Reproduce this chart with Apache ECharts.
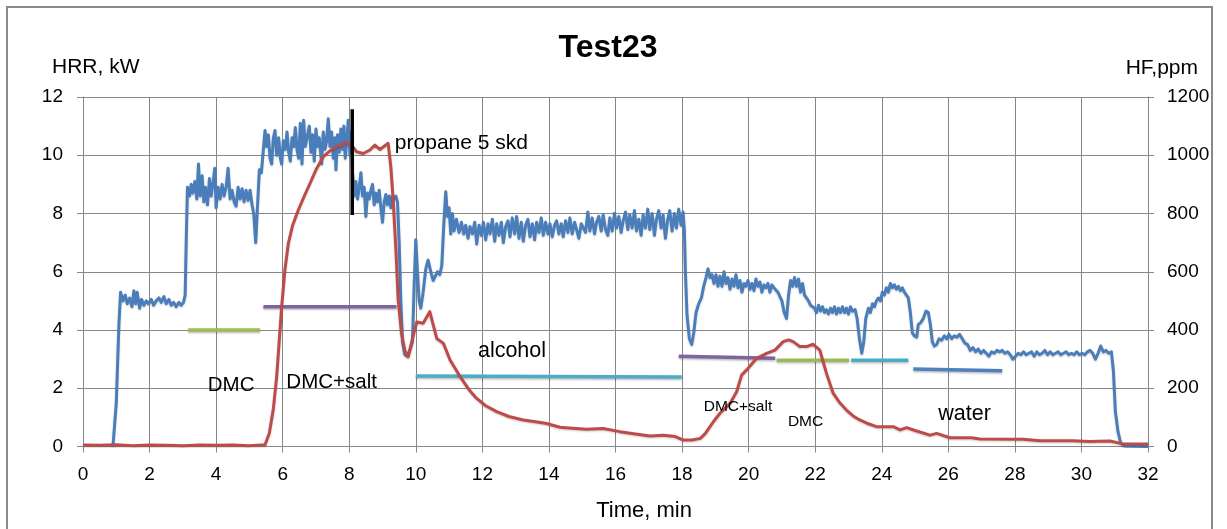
<!DOCTYPE html>
<html>
<head>
<meta charset="utf-8">
<script src="https://cdn.jsdelivr.net/npm/echarts@6/dist/echarts.min.js"></script>
<style>
html,body{margin:0;padding:0;background:#fff;}
#chart{width:1227px;height:529px;}
</style>
</head>
<body>
<div id="chart"></div>
<script>
// ---- Data (time in min) ----
var xTicks = {min: 0, max: 32, interval: 2};
var hrrTicks = {min: 0, max: 12, interval: 2};
var hfTicks = {min: 0, max: 1200, interval: 200};

// HRR, kW (left axis)
var hrr = [
[0.9,0],[1.0,1.5],[1.08,4.2],[1.13,5.3],[1.2,5.0],[1.27,5.2],[1.33,4.9],[1.4,5.1],[1.47,4.8],[1.53,5.35],[1.58,4.9],[1.63,5.3],[1.7,4.75],[1.76,5.05],[1.83,4.85],[1.9,5.0],[1.97,4.9],[2.05,5.05],[2.12,4.85],[2.2,5.0],[2.28,5.1],[2.35,4.95],[2.43,5.15],[2.5,4.9],[2.58,5.05],[2.65,4.85],[2.72,4.95],[2.8,4.8],[2.88,4.95],[2.95,4.85],[3.02,4.95],[3.07,5.2],
[3.11,7.5],[3.14,8.9],[3.2,8.6],[3.25,9.0],[3.3,8.7],[3.36,9.1],[3.42,8.5],[3.47,9.7],[3.52,8.6],[3.58,9.3],[3.63,8.4],[3.68,8.9],[3.74,8.3],[3.8,9.2],[3.85,8.6],[3.9,9.0],[3.96,9.55],[4.0,8.2],[4.06,8.9],[4.12,8.5],[4.18,9.0],[4.24,8.6],[4.3,8.9],[4.36,9.55],[4.42,8.5],[4.48,8.8],[4.54,8.4],[4.6,8.25],[4.66,8.9],[4.72,8.5],[4.78,8.85],[4.84,8.4],[4.9,8.8],[4.96,8.45],[5.02,8.8],[5.08,8.3],[5.13,8.0],[5.19,7.0],[5.25,8.4],[5.3,9.5],[5.36,9.4],[5.42,10.2],[5.47,10.85],
[5.52,10.3],[5.57,10.7],[5.62,9.9],[5.67,9.7],[5.72,10.6],[5.77,10.85],[5.82,10.0],[5.88,10.6],[5.93,9.9],[5.97,9.7],[6.02,10.5],[6.08,10.2],[6.13,10.8],[6.18,10.1],[6.23,9.8],[6.28,10.6],[6.33,10.3],[6.38,10.95],[6.43,10.2],[6.48,9.9],[6.53,11.1],[6.58,9.7],[6.63,11.2],[6.68,10.3],[6.73,10.6],[6.8,11.0],[6.85,10.1],[6.9,10.7],[6.95,9.8],[7.0,10.9],[7.05,10.3],[7.1,10.6],[7.17,9.7],[7.22,10.8],[7.27,10.2],[7.32,10.5],[7.37,11.25],[7.42,10.3],[7.47,10.8],[7.52,9.9],[7.57,10.6],[7.6,9.5],[7.65,10.7],[7.7,10.1],[7.75,10.9],[7.8,10.2],[7.84,11.0],[7.88,9.9],[7.93,10.6],[7.97,11.2],[8.02,10.0],[8.06,10.8],[8.1,9.4],
[8.15,8.6],[8.2,9.1],[8.25,8.5],[8.3,8.9],[8.35,9.4],[8.4,8.6],[8.45,8.9],[8.5,7.9],[8.55,8.7],[8.6,8.5],[8.65,8.8],[8.7,9.0],[8.75,8.3],[8.8,8.7],[8.85,8.4],[8.9,8.8],[8.95,8.2],[9.0,7.7],[9.05,8.4],[9.1,8.65],[9.15,8.3],[9.2,8.6],[9.25,8.2],[9.3,8.6],[9.35,8.5],[9.4,8.6],[9.45,8.4],
[9.5,7.0],[9.55,5.0],[9.6,3.6],[9.67,3.15],[9.75,3.1],[9.82,3.3],[9.9,3.6],[9.95,5.5],[10.0,7.1],[10.05,6.0],[10.1,5.0],[10.15,4.75],[10.22,5.3],[10.3,6.1],[10.37,6.4],[10.45,6.0],[10.52,5.7],[10.58,5.65],[10.65,6.0],[10.72,5.9],[10.78,6.2],[10.84,7.6],[10.9,8.75],[10.95,7.9],
[11.0,8.2],[11.05,7.3],[11.1,8.0],[11.15,7.4],[11.22,7.8],[11.3,7.35],[11.37,7.7],[11.44,7.3],[11.5,7.6],[11.57,7.15],[11.63,7.55],[11.7,7.3],[11.77,7.7],[11.83,6.95],[11.9,7.6],[11.97,7.25],[12.03,7.7],[12.1,7.1],[12.17,7.65],[12.23,7.3],[12.3,7.8],[12.37,7.05],[12.43,7.65],[12.5,7.25],[12.57,7.7],[12.63,7.0],[12.7,7.55],[12.77,7.75],[12.83,7.2],[12.9,7.85],[12.97,7.3],[13.03,7.9],[13.1,7.15],[13.17,7.7],[13.23,7.05],[13.3,7.6],[13.37,7.8],[13.43,7.2],[13.5,7.65],[13.57,7.1],[13.63,7.7],[13.7,7.35],[13.77,7.85],[13.83,7.25],[13.9,7.7],[13.97,7.3],[14.03,7.65],[14.1,7.2],[14.17,7.6],[14.23,7.75],[14.3,7.3],[14.37,7.65],[14.43,7.2],[14.5,7.75],[14.57,7.35],[14.63,7.85],[14.7,7.3],[14.77,7.7],[14.83,7.45],[14.9,7.15],[14.97,7.65],[15.03,7.7],[15.1,7.35],[15.17,8.05],[15.23,7.4],[15.3,7.85],[15.37,7.3],[15.43,7.7],[15.5,7.9],[15.57,7.4],[15.63,7.95],[15.7,7.45],[15.77,7.25],[15.83,7.85],[15.9,7.4],[15.97,8.0],[16.03,7.5],[16.1,7.9],[16.17,7.35],[16.23,7.75],[16.3,8.05],[16.37,7.45],[16.43,7.95],[16.5,7.5],[16.57,8.1],[16.63,7.4],[16.7,7.8],[16.77,7.25],[16.83,7.95],[16.9,7.5],[16.97,8.15],[17.03,7.45],[17.1,8.0],[17.17,7.25],[17.23,7.8],[17.3,8.1],[17.37,7.5],[17.43,7.95],[17.5,7.15],[17.57,7.8],[17.63,8.1],[17.7,7.4],[17.77,8.0],[17.83,7.5],[17.9,8.15],[17.97,7.6],[18.03,8.05],[18.07,7.4],
[18.1,6.0],[18.15,4.5],[18.22,3.7],[18.29,3.5],[18.35,3.9],[18.42,4.6],[18.5,4.9],[18.58,5.1],[18.65,5.5],[18.72,5.8],[18.78,6.1],[18.84,5.8],[18.9,5.9],[18.96,5.6],[19.02,5.9],[19.08,5.5],[19.14,5.85],[19.2,5.5],[19.26,6.0],[19.32,5.6],[19.38,5.8],[19.44,5.4],[19.5,5.75],[19.56,5.5],[19.62,5.9],[19.68,5.45],[19.74,5.7],[19.8,5.3],[19.86,5.6],[19.92,5.5],[19.98,5.7],[20.04,5.4],[20.1,5.6],[20.16,5.35],[20.22,5.75],[20.28,5.5],[20.34,5.65],[20.4,5.3],[20.46,5.55],[20.52,5.45],[20.58,5.6],[20.64,5.3],[20.7,5.55],[20.76,5.45],[20.82,5.5],[20.88,5.3],[20.94,5.35],
[21.0,5.0],[21.07,4.6],[21.14,4.4],[21.2,5.2],[21.26,5.7],[21.32,5.5],[21.38,5.8],[21.44,5.5],[21.5,5.75],[21.56,5.3],[21.62,5.6],[21.68,5.2],[21.74,5.1],[21.8,5.0],[21.86,4.85],[21.92,4.8],[21.98,4.75],[22.04,4.6],[22.1,4.85],[22.16,4.65],[22.22,4.8],[22.28,4.6],[22.34,4.7],[22.4,4.55],[22.46,4.75],[22.52,4.6],[22.58,4.8],[22.64,4.55],[22.7,4.75],[22.76,4.6],[22.82,4.8],[22.88,4.6],[22.94,4.75],[23.0,4.55],[23.06,4.8],[23.12,4.65],[23.2,4.7],
[23.26,4.4],[23.33,3.7],[23.4,3.2],[23.46,3.6],[23.52,4.4],[23.6,4.75],[23.66,4.6],[23.72,4.9],[23.78,4.8],[23.84,5.0],[23.9,5.1],[23.96,5.0],[24.02,5.3],[24.08,5.2],[24.14,5.45],[24.2,5.3],[24.26,5.6],[24.32,5.45],[24.38,5.55],[24.44,5.4],[24.5,5.5],[24.56,5.35],[24.62,5.45],[24.68,5.3],[24.74,5.35],[24.8,5.1],[24.86,4.6],[24.92,3.9],[24.98,3.8],[25.05,3.75],[25.1,4.2],[25.17,4.25],[25.25,4.4],[25.33,4.65],[25.4,4.6],[25.46,4.2],[25.52,3.6],[25.58,3.45],[25.65,3.5],[25.72,3.7],[25.8,3.65],[25.88,3.8],[25.95,3.7],[26.02,3.85],[26.1,3.7],[26.18,3.8],[26.26,3.75],[26.34,3.85],[26.42,3.7],[26.5,3.55],[26.58,3.5],[26.66,3.3],[26.74,3.4],[26.82,3.25],[26.9,3.35],[26.98,3.2],[27.06,3.3],[27.14,3.2],[27.22,3.1],[27.3,3.25],[27.38,3.2],[27.46,3.3],[27.54,3.25],[27.62,3.3],[27.7,3.2],[27.78,3.25],[27.86,3.15],[27.94,3.0],[28.02,3.1],[28.1,3.2],[28.18,3.15],[28.26,3.25],[28.34,3.15],[28.42,3.2],[28.5,3.25],[28.58,3.1],[28.66,3.25],[28.74,3.15],[28.82,3.2],[28.9,3.3],[28.98,3.15],[29.06,3.25],[29.14,3.15],[29.22,3.2],[29.3,3.25],[29.38,3.15],[29.46,3.2],[29.54,3.25],[29.62,3.15],[29.7,3.2],[29.78,3.15],[29.86,3.25],[29.94,3.15],[30.02,3.2],[30.1,3.15],[30.18,3.25],[30.26,3.3],[30.34,3.2],[30.42,3.0],[30.5,3.2],[30.58,3.45],[30.66,3.25],[30.74,3.3],[30.82,3.2],[30.9,3.25],[30.96,2.6],[31.02,1.2],[31.1,0.5],[31.18,0.12],[31.3,0.02],[32.0,0.0]
];

// HF, ppm (right axis)
var hf = [
[0,5],[0.5,4],[1,6],[1.5,3],[2,5],[2.5,4],[3,3],[3.5,5],[4,4],[4.5,5],[5,3],[5.47,6],[5.6,46],[5.72,130],[5.82,240],[5.97,480],[6.07,610],[6.17,697],[6.3,760],[6.47,812],[6.65,860],[6.82,903],[7.0,950],[7.22,995],[7.42,1015],[7.62,1029],[7.92,1043],[8.07,1035],[8.22,1012],[8.42,1006],[8.62,1018],[8.77,1035],[8.92,1020],[9.17,1041],[9.25,960],[9.32,846],[9.4,680],[9.47,503],[9.57,389],[9.67,330],[9.77,308],[9.9,370],[10.03,428],[10.22,423],[10.42,463],[10.63,371],[10.83,354],[11.03,297],[11.33,240],[11.6,195],[11.83,165],[12.1,140],[12.43,120],[12.8,103],[13.23,91],[13.6,85],[13.93,79],[14.33,66],[14.7,63],[15.13,59],[15.63,62],[16.13,51],[16.6,43],[17.04,36],[17.44,39],[17.8,34],[18.04,22],[18.3,22],[18.55,28],[18.7,45],[18.84,68],[18.94,85],[19.14,114],[19.44,148],[19.64,188],[19.79,245],[19.94,263],[20.24,303],[20.54,320],[20.79,331],[21.04,360],[21.2,366],[21.34,360],[21.54,343],[21.74,343],[21.94,351],[22.14,331],[22.34,251],[22.54,183],[22.74,150],[22.94,125],[23.14,105],[23.34,91],[23.6,78],[23.84,68],[24.35,68],[24.55,57],[24.75,65],[25.0,55],[25.45,39],[25.65,45],[26.05,30],[26.7,30],[26.95,26],[28.25,25],[28.75,20],[29.75,20],[30.25,17],[30.85,19],[31.25,9],[32,9]
];

// Period markers (left axis units)
var dmc1 = [[3.16,4.0],[5.32,4.0]];
var salt1 = [[5.42,4.8],[9.42,4.8]];
var alcohol1 = [[10.0,2.42],[17.99,2.39]];
var salt2 = [[17.9,3.1],[20.8,3.03]];
var dmc2 = [[20.84,2.96],[23.02,2.96]];
var alcohol2 = [[23.08,2.96],[24.8,2.96]];
var water = [[24.95,2.66],[27.62,2.6]];
var propane = [[8.09,11.58],[8.09,7.95]];

// Text annotations: [time, HRR position, text, size]
var notes = [
  [4.45,2.11,'DMC',20.5],
  [7.47,2.21,'DMC+salt',20.5],
  [11.37,10.42,'propane 5 skd',21],
  [12.89,3.28,'alcohol',21.5],
  [19.68,1.36,'DMC+salt',15.5],
  [21.71,0.84,'DMC',15.5],
  [26.49,1.12,'water',21.5]
];

var titleText = 'Test23';
var leftName = 'HRR, kW';
var rightName = 'HF,ppm';
var xName = 'Time, min';

// ---- Chart ----
var FONT = '"Liberation Sans", Arial, sans-serif';
var GRID = '#878787';
var chart = echarts.init(document.getElementById('chart'), null, {renderer: 'canvas'});

function seg(data, color, w) {
  return {
    type: 'line', data: data, yAxisIndex: 0, showSymbol: false, symbol: 'none',
    silent: true, z: 4,
    lineStyle: {color: color, width: w || 3.5, cap: 'butt',
      shadowColor: 'rgba(0,0,0,0.25)', shadowBlur: 2, shadowOffsetY: 1.5}
  };
}
function plain(v) { return String(v); }

chart.setOption({
  animation: false,
  backgroundColor: '#fff',
  textStyle: {fontFamily: FONT},
  grid: {left: 83, right: 79, top: 97, bottom: 82.5, containLabel: false},
  graphic: [
    {type: 'rect', shape: {x: 7, y: 7, width: 1205, height: 540}, style: {fill: 'none', stroke: '#8a8a8a', lineWidth: 2}, silent: true, z: -10},
    {type: 'text', x: 608, y: 48, style: {text: titleText, font: 'bold 32px ' + FONT, fill: '#000', align: 'center', verticalAlign: 'middle'}},
    {type: 'text', x: 52, y: 67, style: {text: leftName, font: '21px ' + FONT, fill: '#000', align: 'left', verticalAlign: 'middle'}},
    {type: 'text', x: 1198, y: 68, style: {text: rightName, font: '21px ' + FONT, fill: '#000', align: 'right', verticalAlign: 'middle'}},
    {type: 'text', x: 644, y: 511, style: {text: xName, font: '22px ' + FONT, fill: '#000', align: 'center', verticalAlign: 'middle'}}
  ],
  xAxis: {
    type: 'value', min: xTicks.min, max: xTicks.max, interval: xTicks.interval,
    axisLine: {show: true, lineStyle: {color: GRID, width: 1}},
    axisTick: {show: true, inside: false, length: 6, lineStyle: {color: GRID}},
    splitLine: {show: true, lineStyle: {color: GRID, width: 1}},
    axisLabel: {fontSize: 19, color: '#000', margin: 19, fontFamily: FONT, formatter: plain}
  },
  yAxis: [
    {
      type: 'value', position: 'left', min: hrrTicks.min, max: hrrTicks.max, interval: hrrTicks.interval,
      axisLine: {show: true, lineStyle: {color: GRID, width: 1}},
      axisTick: {show: true, length: 6, lineStyle: {color: GRID}},
      splitLine: {show: true, lineStyle: {color: GRID, width: 1}},
      axisLabel: {fontSize: 19, color: '#000', margin: 20, fontFamily: FONT, formatter: plain}
    },
    {
      type: 'value', position: 'right', min: hfTicks.min, max: hfTicks.max, interval: hfTicks.interval,
      axisLine: {show: true, lineStyle: {color: GRID, width: 1}},
      axisTick: {show: true, length: 6, lineStyle: {color: GRID}},
      splitLine: {show: false},
      axisLabel: {fontSize: 19, color: '#000', margin: 19, fontFamily: FONT, formatter: plain}
    }
  ],
  series: [
    {
      name: 'HRR', type: 'line', data: hrr, yAxisIndex: 0, showSymbol: false, symbol: 'none', z: 3,
      lineStyle: {color: '#4A7EBB', width: 3, join: 'round',
        shadowColor: 'rgba(0,0,0,0.2)', shadowBlur: 2, shadowOffsetY: 1}
    },
    {
      name: 'HF', type: 'line', data: hf, yAxisIndex: 1, showSymbol: false, symbol: 'none', z: 5,
      lineStyle: {color: '#BE4B48', width: 3, join: 'round',
        shadowColor: 'rgba(0,0,0,0.2)', shadowBlur: 2, shadowOffsetY: 1}
    },
    seg(dmc1, '#9BBB59'),
    seg(salt1, '#8064A2'),
    seg(alcohol1, '#4BACC6'),
    seg(salt2, '#8064A2'),
    seg(dmc2, '#9BBB59'),
    seg(alcohol2, '#4BACC6'),
    seg(water, '#4F81BD'),
    {
      type: 'line', data: propane, yAxisIndex: 0, showSymbol: false, symbol: 'none', silent: true, z: 6,
      lineStyle: {color: '#000', width: 3.5, cap: 'butt'}
    },
    {
      type: 'scatter', yAxisIndex: 0, symbolSize: 0, silent: true, z: 7,
      itemStyle: {color: '#000', opacity: 1},
      data: notes.map(function (n) {
        return {value: [n[0], n[1]], name: n[2],
          label: {show: true, position: 'inside', formatter: '{b}', color: '#000', opacity: 1,
            fontSize: n[3], fontFamily: FONT, textBorderWidth: 0, textShadowBlur: 0}};
      })
    }
  ]
});
</script>
</body>
</html>
